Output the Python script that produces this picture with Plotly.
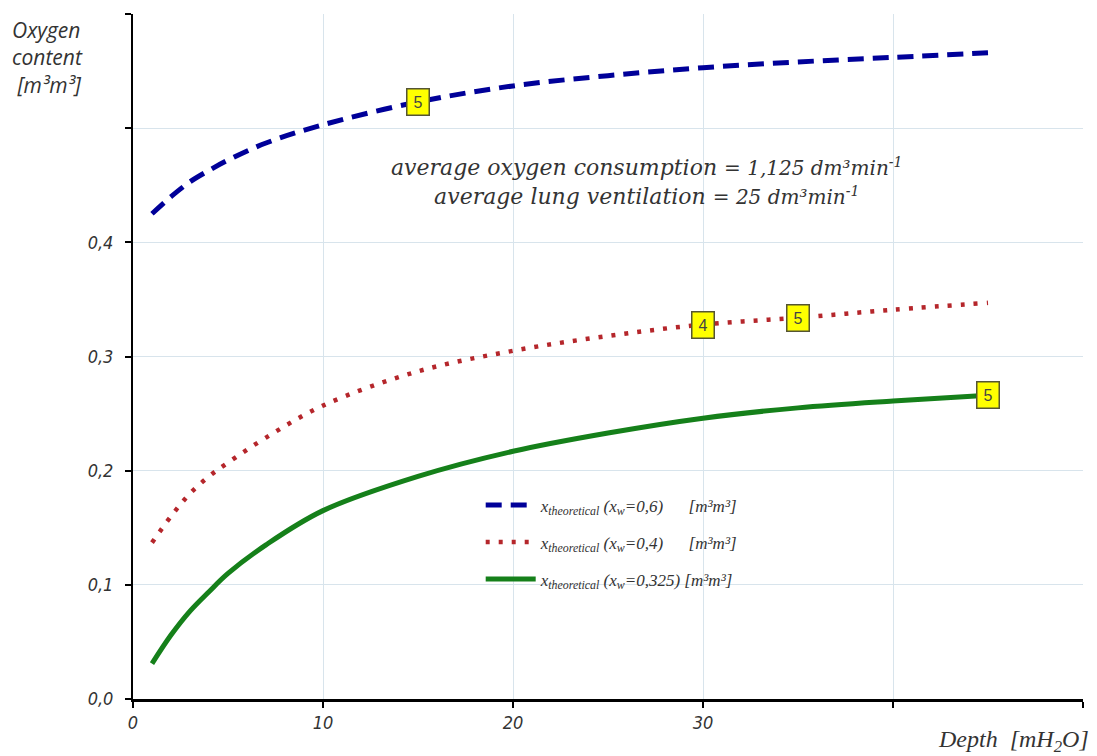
import plotly.graph_objects as go

depth = [1, 2, 3, 4, 5, 7, 10, 15, 20, 25, 30, 35, 40, 45]
x_w06 = [0.425, 0.440, 0.453, 0.463, 0.472, 0.487, 0.503, 0.523, 0.537, 0.546, 0.553, 0.558, 0.562, 0.566]
x_w04 = [0.137, 0.160, 0.180, 0.195, 0.207, 0.229, 0.257, 0.287, 0.305, 0.318, 0.328, 0.334, 0.341, 0.347]
x_w0325 = [0.031, 0.056, 0.077, 0.094, 0.110, 0.135, 0.165, 0.195, 0.217, 0.233, 0.246, 0.255, 0.261, 0.266]

names = [
    "x<sub>theoretical</sub> (x<sub>w</sub>=0,6)\u00a0\u00a0\u00a0\u00a0\u00a0\u00a0[m³m³]",
    "x<sub>theoretical</sub> (x<sub>w</sub>=0,4)\u00a0\u00a0\u00a0\u00a0\u00a0\u00a0[m³m³]",
    "x<sub>theoretical</sub> (x<sub>w</sub>=0,325) [m³m³]",
]

# labelled boxes: (series index, depth, label)
box_series = [0, 1, 1, 2]
box_depth = [15, 30, 35, 45]
box_label = ["5", "4", "5", "5"]

x_tickvals = [0, 10, 20, 30, 40, 50]
x_ticktext = ["0", "10", "20", "30", "", ""]
y_tickvals = [0, 0.1, 0.2, 0.3, 0.4, 0.5, 0.6]
y_ticktext = ["0,0", "0,1", "0,2", "0,3", "0,4", "", ""]

series = [x_w06, x_w04, x_w0325]
colors = ["#000099", "#b5262b", "#15801a"]
dashes = ["16px,9px", "4px,9px", "solid"]
widths = [5, 4.5, 5]

fig = go.Figure()
for i, (s, c, d, w, n) in enumerate(zip(series, colors, dashes, widths, names)):
    fig.add_trace(go.Scatter(x=depth, y=s, mode="lines", name=n, legendgroup=f"g{i}",
                             line=dict(color=c, dash=d, width=w, shape="spline")))

lab_font = dict(family="Liberation Sans Narrow, DejaVu Sans Condensed, Liberation Sans",
                size=18, color="#333333", style="italic")

for si, dx, lb in zip(box_series, box_depth, box_label):
    yv = series[si][depth.index(dx)]
    fig.add_annotation(x=dx, y=yv, text=lb, showarrow=False,
                       bgcolor="#ffff00", bordercolor="#555533", borderwidth=1.5,
                       borderpad=2, font=dict(family="Liberation Sans", size=16, color="#444444"),
                       width=17, height=21)

fig.add_annotation(xref="paper", yref="paper", x=0.54, y=0.756, xanchor="center", yanchor="middle",
                   text="average oxygen consumption <span style='font-size:20px'>= 1,125 dm³min<sup>-1</sup></span><br>average lung ventilation <span style='font-size:20px'>= 25 dm³min<sup>-1</sup></span>",
                   showarrow=False, align="center",
                   font=dict(family="DejaVu Serif", size=22, color="#333333", style="italic"))

fig.add_annotation(xref="paper", yref="paper", x=-0.13, y=1.0, xanchor="left", yanchor="top",
                   text="Oxygen<br>content<br>\u00a0[m³m³]", showarrow=False, align="left",
                   font=dict(family="Open Sans", size=21, color="#333333", style="italic"))

fig.add_annotation(xref="paper", yref="paper", x=1.008, y=-0.061, xanchor="right", yanchor="middle",
                   text="Depth\u00a0\u00a0[mH<sub>2</sub>O]", showarrow=False,
                   font=dict(family="Liberation Serif", size=24, color="#333333", style="italic"))

fig.update_layout(
    width=1089, height=748,
    margin=dict(l=125, r=14, t=6, b=57),
    paper_bgcolor="white", plot_bgcolor="white",
    showlegend=True,
    legend=dict(x=0.366, y=0.309, xanchor="left", yanchor="top", bgcolor="rgba(0,0,0,0)",
                font=dict(family="Liberation Serif", size=17, color="#333333", style="italic"),
                tracegroupgap=12, itemwidth=50),
    xaxis=dict(range=[0, 50], tickvals=x_tickvals, ticktext=x_ticktext,
               showgrid=True, gridcolor="#d8e4ec", gridwidth=1,
               showline=True, linecolor="black", linewidth=2.5,
               ticks="outside", ticklen=6, tickwidth=2, tickcolor="black",
               tickfont=lab_font, zeroline=False, ticklabelstandoff=0),
    yaxis=dict(range=[0, 0.6], tickvals=y_tickvals, ticktext=y_ticktext,
               showgrid=True, gridcolor="#d8e4ec", gridwidth=1,
               showline=True, linecolor="black", linewidth=2,
               ticks="outside", ticklen=6, tickwidth=2, tickcolor="black",
               tickfont=lab_font, zeroline=False, ticklabelstandoff=8),
)

fig.write_html("out.html")
